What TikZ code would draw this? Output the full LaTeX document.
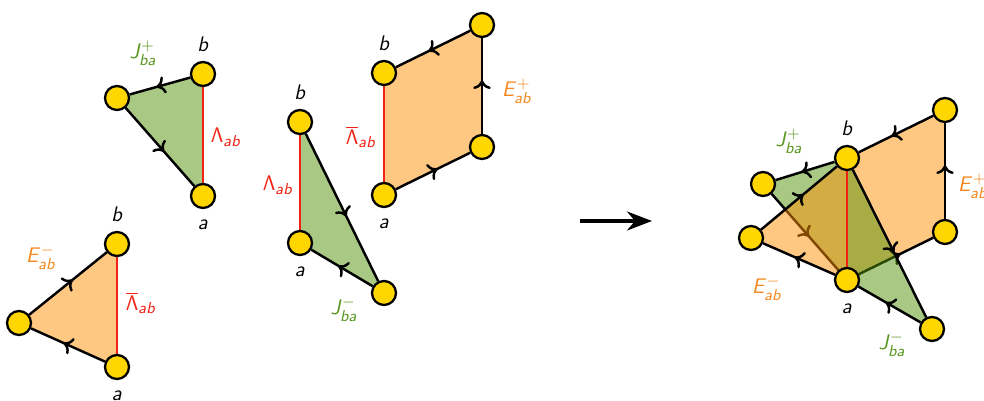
\documentclass[tikz,border=0pt]{standalone}
\usepackage{xcolor}
\usepackage{tikz}
\usetikzlibrary{arrows.meta, positioning, backgrounds, decorations.markings}

\DeclareMathAlphabet{\mathsfit}{OT1}{cmss}{m}{sl}
\definecolor{vertexyellow}{RGB}{255,214,0}
\definecolor{jgreen}{RGB}{81,145,9}
\definecolor{eorange}{RGB}{255,145,5}
\definecolor{jtext}{RGB}{88,150,30}
\definecolor{etext}{RGB}{245,135,30}
\definecolor{lamred}{RGB}{240,35,20}

\begin{document}
\begin{tikzpicture}[
    x=0.02cm, y=-0.02cm,
    vertex/.style={circle, draw=black, fill=vertexyellow, line width=1.3pt, minimum size=0.48cm, inner sep=0pt},
    lbl/.style={font=\fontsize{13}{15}\selectfont, inner sep=1pt},
    jlbl/.style={lbl, text=jtext},
    elbl/.style={lbl, text=etext},
    lamlbl/.style={lbl, text=lamred},
    link/.style={line width=1.4pt, black},
    midarr/.style={postaction={decorate}, decoration={markings, mark=at position 0.56 with {\arrow{To[length=5pt, width=10pt]}}}},
    lam/.style={line width=1.4pt, lamred},
    jfill/.style={fill=jgreen, fill opacity=0.5},
    efill/.style={fill=eorange, fill opacity=0.5},
    bigarr/.style={-{Stealth[length=0.5cm, width=0.38cm, inset=0.16cm]}, line width=1.8pt}
]
\useasboundingbox (0,0) rectangle (984,401);

% J+ triangle
\node[vertex] (b1) at (203,74) {};
\node[vertex] (a1) at (203,196) {};
\node[vertex] (j1) at (117,98) {};
\node[lbl, above=0.15cm of b1] (b1l) {$\mathsfit{b}$};
\node[lbl, below=0.18cm of a1] (a1l) {$\mathsfit{a}$};
\node[jlbl] (j1l) at (143,53) {$\mathsfit{J}^{+}_{\mathsfit{ba}}$};
\node[lamlbl] (l1l) at (226,137) {$\mathsf{\Lambda}_{\mathsfit{ab}}$};

% E- triangle
\node[vertex] (b2) at (117,244) {};
\node[vertex] (a2) at (117,367) {};
\node[vertex] (e2) at (19,323) {};
\node[lbl, above=0.15cm of b2] (b2l) {$\mathsfit{b}$};
\node[lbl, below=0.18cm of a2] (a2l) {$\mathsfit{a}$};
\node[elbl] (e2l) at (41,257) {$\mathsfit{E}^{-}_{\mathsfit{ab}}$};
\node[lamlbl] (l2l) at (141,303) {$\overline{\mathsf{\Lambda}}_{\mathsfit{ab}}$};

% J- triangle
\node[vertex] (b4) at (300,122) {};
\node[vertex] (a4) at (300,243) {};
\node[vertex] (j4) at (384,293) {};
\node[lbl, above=0.15cm of b4] (b4l) {$\mathsfit{b}$};
\node[lbl, below=0.18cm of a4] (a4l) {$\mathsfit{a}$};
\node[jlbl] (j4l) at (344,309) {$\mathsfit{J}^{-}_{\mathsfit{ba}}$};
\node[lamlbl] (l4l) at (278,185) {$\mathsf{\Lambda}_{\mathsfit{ab}}$};

% E+ parallelogram
\node[vertex] (b5) at (384,73) {};
\node[vertex] (a5) at (384,195) {};
\node[vertex] (r5) at (482,147) {};
\node[vertex] (t5) at (482,25) {};
\node[lbl, above=0.15cm of b5] (b5l) {$\mathsfit{b}$};
\node[lbl, below=0.18cm of a5] (a5l) {$\mathsfit{a}$};
\node[elbl] (e5l) at (517,91) {$\mathsfit{E}^{+}_{\mathsfit{ab}}$};
\node[lamlbl] (l5l) at (361,137) {$\overline{\mathsf{\Lambda}}_{\mathsfit{ab}}$};

% Glued picture
\node[vertex] (b3) at (847,158) {};
\node[vertex] (a3) at (847,280) {};
\node[vertex] (jp3) at (763,184) {};
\node[vertex] (em3) at (751,238) {};
\node[vertex] (jm3) at (932,329) {};
\node[vertex] (r3) at (945,232) {};
\node[vertex] (t3) at (945,110) {};
\node[lbl, above=0.15cm of b3] (b3l) {$\mathsfit{b}$};
\node[lbl, below=0.18cm of a3] (a3l) {$\mathsfit{a}$};
\node[jlbl] (jp3l) at (789,141) {$\mathsfit{J}^{+}_{\mathsfit{ba}}$};
\node[elbl] (em3l) at (767,288) {$\mathsfit{E}^{-}_{\mathsfit{ab}}$};
\node[elbl] (ep3l) at (973,186) {$\mathsfit{E}^{+}_{\mathsfit{ab}}$};
\node[jlbl] (jm3l) at (892,344) {$\mathsfit{J}^{-}_{\mathsfit{ba}}$};

% Big arrow
\coordinate (from) at (580,221);
\coordinate (to) at (652,221);
\draw[bigarr] (from) -- (to);

\begin{scope}[on background layer]
  % separate pieces
  \fill[jfill] (b1.center) -- (j1.center) -- (a1.center) -- cycle;
  \draw[link, midarr] (b1) -- (j1);
  \draw[link, midarr] (j1) -- (a1);
  \draw[lam] (a1) -- (b1);

  \fill[efill] (a2.center) -- (e2.center) -- (b2.center) -- cycle;
  \draw[link, midarr] (a2) -- (e2);
  \draw[link, midarr] (e2) -- (b2);
  \draw[lam] (a2) -- (b2);

  \fill[jfill] (b4.center) -- (j4.center) -- (a4.center) -- cycle;
  \draw[link, midarr] (b4) -- (j4);
  \draw[link, midarr] (j4) -- (a4);
  \draw[lam] (a4) -- (b4);

  \fill[efill] (a5.center) -- (r5.center) -- (t5.center) -- (b5.center) -- cycle;
  \draw[link, midarr] (a5) -- (r5);
  \draw[link, midarr] (r5) -- (t5);
  \draw[link, midarr] (t5) -- (b5);
  \draw[lam] (a5) -- (b5);

  % glued
  \fill[jfill] (b3.center) -- (jp3.center) -- (a3.center) -- cycle;
  \draw[link, midarr] (b3) -- (jp3);
  \draw[link, midarr] (jp3) -- (a3);
  \fill[efill] (a3.center) -- (em3.center) -- (b3.center) -- cycle;
  \draw[link, midarr] (a3) -- (em3);
  \draw[link, midarr] (em3) -- (b3);
  \fill[efill] (a3.center) -- (r3.center) -- (t3.center) -- (b3.center) -- cycle;
  \draw[link, midarr] (a3) -- (r3);
  \draw[link, midarr] (r3) -- (t3);
  \draw[link, midarr] (t3) -- (b3);
  \fill[jfill] (b3.center) -- (jm3.center) -- (a3.center) -- cycle;
  \draw[link, midarr] (b3) -- (jm3);
  \draw[link, midarr] (jm3) -- (a3);
  \draw[lam] (a3) -- (b3);
\end{scope}

\end{tikzpicture}
\end{document}
